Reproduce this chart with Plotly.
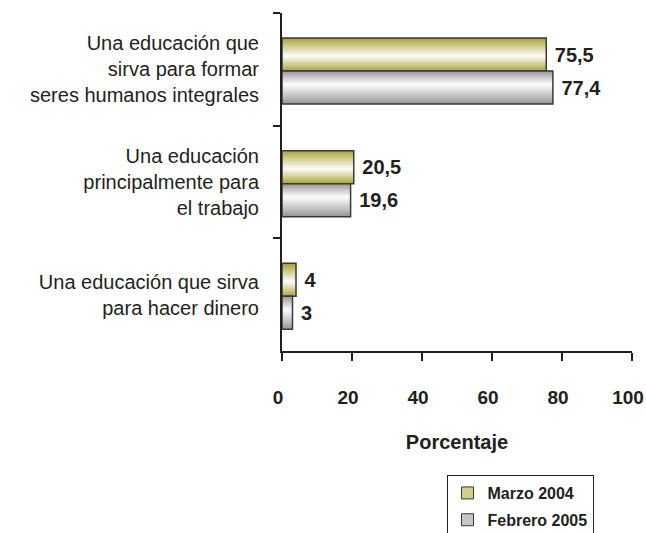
"""
Bar chart: educación deseada, Marzo 2004 vs Febrero 2005.
Bars get a fake vertical gradient by stacking thinner overlay bars.
"""

import plotly.graph_objects as go

# Data
CATEGORIES = [
    "Una educación que<br>sirva para formar<br>seres humanos integrales",
    "Una educación<br>principalmente para<br>el trabajo",
    "Una educación que sirva<br>para hacer dinero",
]
MARZO_2004 = [75.5, 20.5, 4]
FEBRERO_2005 = [77.4, 19.6, 3]
SERIES_NAMES = ["Marzo 2004", "Febrero 2005"]
X_TICKS = [0, 20, 40, 60, 80, 100]

# Style
INK = "#231f20"
OUTLINE = "#3a3a3a"
FONT = "Liberation Sans, Arial, sans-serif"
NBSP = "\u00a0"
BAR_W = 0.293
# (edge colour, highlight position from bar top, offset of bar top)
SERIES_STYLE = [
    ("#a9a434", 0.55, -0.278),
    ("#97979b", 0.40, 0.015),
]
N_LAYERS = 14


def _mix(hex_a, hex_b, t):
    a = [int(hex_a[i:i + 2], 16) for i in (1, 3, 5)]
    b = [int(hex_b[i:i + 2], 16) for i in (1, 3, 5)]
    return "rgb({},{},{})".format(*[round(x + (y - x) * t) for x, y in zip(a, b)])


def _label(v):
    return NBSP + f"{v:g}".replace(".", ",")


fig = go.Figure()

for values, name, (edge, hi, top) in zip([MARZO_2004, FEBRERO_2005], SERIES_NAMES, SERIES_STYLE):
    # gradient layers, outer (dark) to inner (white)
    for k in range(N_LAYERS):
        t = k / N_LAYERS
        fig.add_trace(go.Bar(
            x=values, y=CATEGORIES, orientation="h",
            width=BAR_W * (1 - t),
            offset=top + t * hi * BAR_W,
            marker=dict(color=_mix(edge, "#ffffff", t ** 0.9), line=dict(width=0)),
            showlegend=False, hoverinfo="skip",
        ))
    # outline + value labels
    fig.add_trace(go.Bar(
        x=values, y=CATEGORIES, orientation="h",
        width=BAR_W, offset=top,
        marker=dict(color="rgba(0,0,0,0)", line=dict(color=OUTLINE, width=1.5)),
        text=[_label(v) for v in values],
        textposition="outside",
        textfont=dict(family=FONT, size=20, color=INK, weight="bold"),
        cliponaxis=False,
        showlegend=False, name=name,
    ))
    # legend-only swatch
    fig.add_trace(go.Bar(
        x=[None], y=[CATEGORIES[0]], orientation="h", name=name,
        marker=dict(color=_mix(edge, "#ffffff", 0.45), line=dict(color=OUTLINE, width=1)),
        legendgroup=name,
    ))

fig.update_layout(
    width=646, height=533,
    margin=dict(l=282, r=14, t=13, b=182, autoexpand=False),
    barmode="overlay",
    plot_bgcolor="white", paper_bgcolor="white",
    font=dict(family=FONT, color=INK),
    legend=dict(
        x=0.47, y=-0.367, xanchor="left", yanchor="top",
        font=dict(family=FONT, size=16, color=INK, weight="bold"),
        bordercolor=INK, borderwidth=1, bgcolor="white",
        traceorder="grouped", tracegroupgap=3,
    ),
)
fig.update_xaxes(
    range=[0, 100], tickvals=X_TICKS,
    showline=True, linecolor=INK, linewidth=2,
    ticks="outside", ticklen=8, tickwidth=2, tickcolor=INK,
    showgrid=False, zeroline=False,
    tickfont=dict(family=FONT, size=19, color=INK, weight="bold"),
    ticklabelstandoff=20, ticklabelshift=-4, ticklabeloverflow="allow",
    title=dict(text="Porcentaje", standoff=28,
               font=dict(family=FONT, size=20, color=INK, weight="bold")),
)
fig.update_yaxes(
    type="category", categoryorder="array", categoryarray=CATEGORIES,
    autorange="reversed",
    showline=True, linecolor=INK, linewidth=2,
    ticks="outside", ticklen=7, tickwidth=2, tickcolor=INK,
    tickson="boundaries",
    showgrid=False, zeroline=False,
    tickfont=dict(family=FONT, size=20, color=INK),
    ticklabelstandoff=17,
)

# page body has a default 8px margin; drop it so the figure sits at 0,0
fig.write_html(
    "out.html",
    config={"displayModeBar": False},
    post_script="document.body.style.margin = '0';",
)
